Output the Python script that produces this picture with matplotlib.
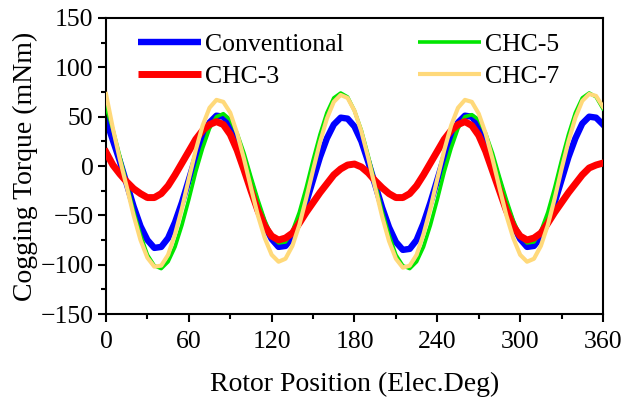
import matplotlib
matplotlib.use("Agg")
import matplotlib.pyplot as plt
from matplotlib.ticker import MultipleLocator

plt.rcParams['font.family'] = ['Liberation Serif', 'DejaVu Serif']
plt.rcParams['mathtext.fontset'] = 'stix'

angle = list(range(0, 365, 5))

conventional = [47, 26, 5, -18, -41, -61, -75, -83, -82, -73, -57, -37, -14, 9, 29, 44, 51, 50, 41,
                25, 5, -18, -41, -60, -74, -82, -81, -72, -57, -37, -14, 9, 28, 42, 49, 48, 40,
                25, 4, -19, -42, -62, -77, -85, -84, -75, -58, -37, -14, 9, 29, 44, 51, 50, 41,
                25, 5, -18, -41, -60, -74, -82, -81, -72, -57, -37, -14, 9, 28, 43, 50, 49, 42]

chc3 = [14, 1, -8, -16, -23, -28, -32, -32, -28, -20, -9, 3, 15, 27, 36, 42, 45, 42, 32,
        16, -4, -25, -45, -61, -71, -75, -73, -68, -58, -47, -37, -27, -18, -9, -3, 1, 2,
        -1, -7, -15, -22, -28, -32, -32, -28, -20, -9, 3, 15, 27, 36, 42, 45, 41, 31,
        15, -5, -25, -45, -61, -71, -75, -73, -68, -58, -47, -37, -27, -18, -9, -2, 1, 3]

chc5 = [60, 37, 10, -18, -46, -70, -90, -101, -104, -97, -82, -60, -34, -6, 18, 38, 50, 53, 47,
        33, 13, -11, -34, -55, -71, -78, -77, -66, -47, -22, 6, 32, 54, 69, 74, 70, 56,
        36, 10, -18, -46, -70, -90, -101, -104, -97, -82, -60, -34, -6, 18, 38, 50, 52, 47,
        33, 13, -11, -34, -55, -71, -78, -77, -66, -47, -22, 6, 32, 54, 69, 74, 70, 58]

chc7 = [73, 38, 7, -21, -50, -75, -93, -102, -101, -90, -69, -43, -13, 16, 41, 59, 67, 65, 54,
        33, 7, -22, -50, -73, -90, -97, -94, -81, -60, -33, -4, 24, 48, 65, 72, 69, 56,
        35, 8, -22, -51, -76, -94, -103, -101, -90, -69, -43, -13, 16, 41, 59, 67, 65, 53,
        33, 7, -22, -50, -73, -90, -97, -94, -81, -60, -33, -3, 25, 49, 66, 73, 71, 60]

labels = ["Conventional", "CHC-3", "CHC-5", "CHC-7"]
colors = ["#0000FF", "#FF0000", "#00E600", "#FFD97A"]

fig = plt.figure(figsize=(6.37, 3.99), dpi=100)
ax = fig.add_axes([0.1664, 0.2130, 0.7802, 0.7419])

l1, = ax.plot(angle, conventional, color=colors[0], lw=4.6, zorder=2, solid_joinstyle='round')
l3, = ax.plot(angle, chc5, color=colors[2], lw=2.6, zorder=3, solid_joinstyle='round')
l2, = ax.plot(angle, chc3, color=colors[1], lw=5.0, zorder=4, solid_joinstyle='round')
l4, = ax.plot(angle, chc7, color=colors[3], lw=3.0, zorder=5, solid_joinstyle='round')

ax.set_xlim(0, 360)
ax.set_ylim(-150, 150)
ax.xaxis.set_major_locator(MultipleLocator(60))
ax.xaxis.set_minor_locator(MultipleLocator(30))
ax.yaxis.set_major_locator(MultipleLocator(50))
ax.yaxis.set_minor_locator(MultipleLocator(25))

for s in ax.spines.values():
    s.set_linewidth(1.5)
ax.tick_params(which='major', direction='out', length=6, width=1.5, labelsize=18.5)
ax.tick_params(axis='x', which='major', pad=6)
ax.tick_params(axis='y', which='major', pad=3)
ax.tick_params(which='minor', direction='out', length=3.5, width=1.5)
ax.tick_params(top=False, right=False, which='both')

ax.set_xlabel("Rotor Position (Elec.Deg)", fontsize=20, labelpad=14)
ax.set_ylabel("Cogging Torque (mNm)", fontsize=20, labelpad=2)

leg = ax.legend([l1, l2, l3, l4], labels, ncol=2, frameon=False, fontsize=18.5,
                loc='upper left', bbox_to_anchor=(0.064, 0.95), handlelength=2.45,
                handletextpad=0.15, columnspacing=2.9, labelspacing=0.34,
                borderaxespad=0.0, borderpad=0.0)
for h in leg.get_lines():
    h.set_solid_capstyle('butt')

fig.savefig("out.png", dpi=100)
